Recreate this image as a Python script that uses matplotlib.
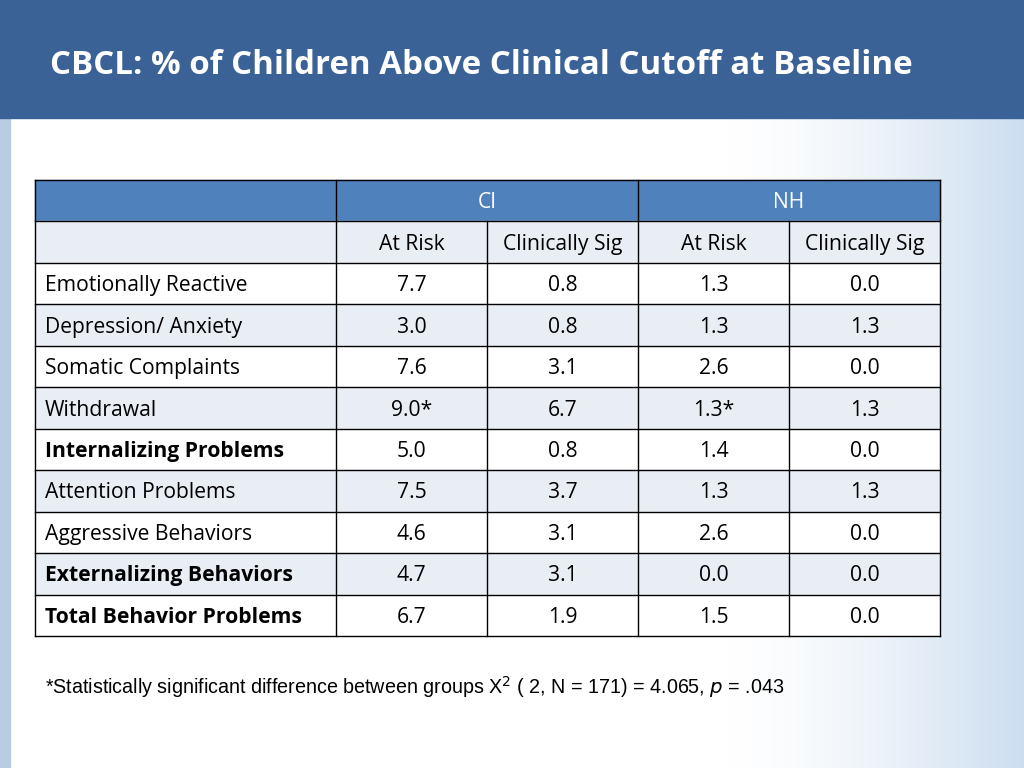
import numpy as np
import matplotlib.pyplot as plt
from matplotlib.patches import Rectangle

title = "CBCL: % of Children Above Clinical Cutoff at Baseline"
groups = ["CI", "NH"]
subheads = ["At Risk", "Clinically Sig", "At Risk", "Clinically Sig"]
rows = ["Emotionally Reactive", "Depression/ Anxiety", "Somatic Complaints", "Withdrawal",
        "Internalizing Problems", "Attention Problems", "Aggressive Behaviors",
        "Externalizing Behaviors", "Total Behavior Problems"]
bold_rows = [False, False, False, False, True, False, False, True, True]
values = [["7.7", "0.8", "1.3", "0.0"],
          ["3.0", "0.8", "1.3", "1.3"],
          ["7.6", "3.1", "2.6", "0.0"],
          ["9.0*", "6.7", "1.3*", "1.3"],
          ["5.0", "0.8", "1.4", "0.0"],
          ["7.5", "3.7", "1.3", "1.3"],
          ["4.6", "3.1", "2.6", "0.0"],
          ["4.7", "3.1", "0.0", "0.0"],
          ["6.7", "1.9", "1.5", "0.0"]]

fig = plt.figure(figsize=(10.24, 7.68), dpi=100)
ax = fig.add_axes([0, 0, 1, 1])
ax.set_xlim(0, 1024)
ax.set_ylim(768, 0)
ax.axis("off")

# background: white fading to light blue on the right
grad = np.linspace(0, 1, 300) ** 1.5
img = np.ones((1, 300, 3))
c = np.array([0.80, 0.87, 0.94])
for i in range(3):
    img[0, :, i] = 1 - grad * (1 - c[i])
ax.imshow(img, extent=[724, 1024, 768, 118], aspect="auto", zorder=0)
ax.add_patch(Rectangle((0, 118), 10, 650, color="#B8CCE4", zorder=1))

# title bar
ax.add_patch(Rectangle((0, 0), 1024, 118, color="#3A6296", zorder=1))
ax.text(50, 65, title, color="white", fontsize=23.8, fontweight="bold",
        family="Open Sans", va="center", ha="left", zorder=2)

# table
xs = [35, 336, 487, 638, 789, 940]
top, bottom = 180, 636
rh = (bottom - top) / 11
light = "#E9EDF4"
fs = 15.2
fam = "Open Sans"
dy = 2

def ry(i):
    return top + i * rh

ax.add_patch(Rectangle((xs[0], ry(0)), xs[-1] - xs[0], rh, color="#4F81BD", zorder=2))
ax.add_patch(Rectangle((xs[0], ry(1)), xs[-1] - xs[0], rh, color=light, zorder=2))
for r in range(len(rows)):
    col = light if r % 2 == 1 else "white"
    ax.add_patch(Rectangle((xs[0], ry(r + 2)), xs[-1] - xs[0], rh, color=col, zorder=2))

for g, name in enumerate(groups):
    ax.text((xs[1 + 2 * g] + xs[3 + 2 * g]) / 2, ry(0.5) + dy, name, color="white",
            fontsize=fs, family=fam, ha="center", va="center", zorder=4)
for j, s in enumerate(subheads):
    ax.text((xs[j + 1] + xs[j + 2]) / 2, ry(1.5) + dy, s, fontsize=fs, family=fam,
            ha="center", va="center", zorder=4)
for r, name in enumerate(rows):
    y = ry(r + 2.5) + dy
    ax.text(xs[0] + 10, y, name, fontsize=fs, family=fam, ha="left", va="center",
            fontweight="bold" if bold_rows[r] else "normal", zorder=4)
    for j, v in enumerate(values[r]):
        ax.text((xs[j + 1] + xs[j + 2]) / 2, y, v, fontsize=fs, family=fam,
                ha="center", va="center", zorder=4)

# grid lines
for i in range(12):
    ax.plot([xs[0], xs[-1]], [ry(i), ry(i)], color="black", lw=1, zorder=3)
for k, x in enumerate(xs):
    if k in (2, 4):
        ax.plot([x, x], [ry(1), bottom], color="black", lw=1, zorder=3)
    else:
        ax.plot([x, x], [top, bottom], color="black", lw=1, zorder=3)

ax.text(45, 687, "*Statistically significant difference between groups X$^2$ ( 2, N = 171) = 4.065, $\\it{p}$ = .043",
        fontsize=14.2, family="Liberation Sans", ha="left", va="center", zorder=4)

fig.savefig("out.png", dpi=100)
